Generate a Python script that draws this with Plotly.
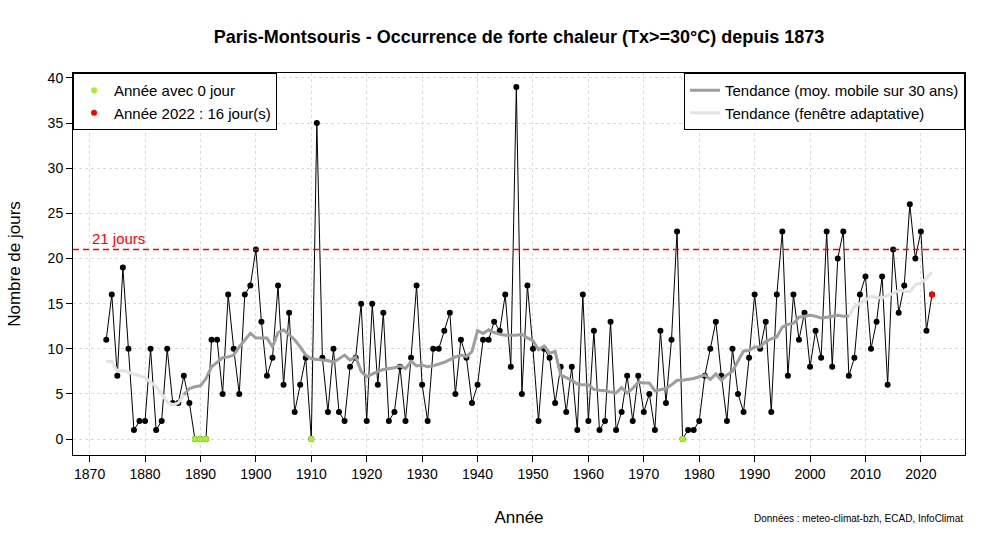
import plotly.graph_objects as go

# ---------------- data ----------------
years = list(range(1873, 2023))
days = [11, 16, 7, 19, 10, 1, 2, 2, 10, 1, 2, 10, 4, 4, 7, 4, 0, 0, 0,   # 1873-1891
        11, 11, 5, 16, 10, 5, 16, 17, 21, 13, 7, 9, 17, 6, 14, 3, 6, 9,    # 1892-1909
        0, 35, 9, 3, 10, 3, 2, 8, 9, 15, 2, 15, 6, 14, 2, 3, 8, 2, 9, 17,  # 1910-1929
        6, 2, 10, 10, 12, 14, 5, 11, 9, 4, 6, 11, 11, 13, 12, 16, 8, 39, 5, 17,  # 1930-1949
        10, 2, 10, 9, 4, 8, 3, 8, 1, 16, 2, 12, 1, 2, 13, 1, 3, 7, 2, 7,   # 1950-1969
        3, 5, 1, 12, 4, 11, 23, 0, 1, 1, 2, 7, 10, 13, 7, 2, 10, 5, 3, 9,  # 1970-1989
        16, 10, 13, 3, 16, 23, 7, 16, 11, 14, 8, 12, 9, 23, 8, 20, 23, 7, 9, 16,  # 1990-2009
        18, 10, 13, 18, 6, 21, 14, 17, 26, 20, 23, 12, 16]                 # 2010-2022

# trend: 30-year moving average
ma_years = list(range(1887, 2008))
ma_values = [4.9, 5.6, 5.8, 5.9, 6.7, 8.0, 8.5, 9.0, 9.1, 9.3, 10.2, 11.0, 11.7,   # 1887-1899
             11.2, 11.2, 11.2, 10.2, 11.8, 12.1, 11.6, 11.0, 10.2, 9.3,          # 1900-1909
             8.9, 8.8, 8.75, 8.7, 8.5, 8.9, 9.3, 8.75, 9.1, 7.5,                 # 1910-1919
             6.9, 7.2, 7.5, 7.7, 7.8, 7.9, 8.1, 7.8, 8.6, 8.1,                   # 1920-1929
             8.2, 8.0, 8.1, 8.3, 8.5, 8.8, 9.1, 9.3, 9.1, 9.7,                   # 1930-1939
             12.0, 11.7, 12.1, 11.8, 11.6, 11.5, 11.5, 11.5, 11.6, 11.2,         # 1940-1949
             10.9, 9.9, 10.3, 9.5, 9.7, 7.1, 6.8, 6.5, 6.1, 6.0,                 # 1950-1959
             6.0, 5.5, 5.4, 5.35, 5.2, 5.1, 5.7, 5.1, 5.6, 6.3,                  # 1960-1969
             6.2, 6.2, 5.35, 5.5, 5.6, 6.0, 6.5, 6.5, 6.6, 6.7,                  # 1970-1979
             6.9, 7.1, 6.6, 7.2, 6.5, 7.1, 7.5, 8.6, 9.75, 9.8,                  # 1980-1989
             10.2, 10.2, 10.8, 11.1, 11.3, 12.4, 12.7, 12.8, 13.5, 13.6,         # 1990-1999
             13.7, 13.6, 13.4, 13.5, 13.6, 13.7, 13.6, 13.6]                     # 2000-2007

# trend: adaptive window at both ends
ad_start_years = list(range(1873, 1888))
ad_start_values = [8.6, 8.6, 7.5, 7.6, 7.4, 7.2, 7.0, 6.8, 6.3, 5.8, 5.0, 4.1, 3.8, 4.0, 4.9]
ad_end_years = list(range(2007, 2023))
ad_end_values = [13.6, 14.7, 15.0, 15.4, 15.8, 15.7, 15.6, 15.9, 16.1, 16.5, 16.4, 16.3,
                 17.1, 17.3, 17.8, 18.5]

threshold = 21
x_ticks = list(range(1870, 2030, 10))
y_ticks = list(range(0, 45, 5))

# ---------------- figure ----------------
FONT = "Liberation Sans, Arial, Helvetica, sans-serif"
X_RANGE = [1867.0, 2027.96]
Y_RANGE = [-1.77, 40.55]
zero_years = [y for y, d in zip(years, days) if d == 0]
zero_vals = [0 for _ in zero_years]

fig = go.Figure()

fig.add_trace(go.Scatter(
    x=years, y=days, mode="lines+markers",
    line=dict(color="black", width=1),
    marker=dict(color="black", size=6),
    showlegend=False, hoverinfo="x+y"))

fig.add_trace(go.Scatter(
    x=ad_start_years + [None] + ad_end_years,
    y=ad_start_values + [None] + ad_end_values,
    mode="lines", line=dict(color="#E3E3E3", width=3),
    name="Tendance (fenêtre adaptative)", legend="legend2", legendrank=2))

fig.add_trace(go.Scatter(
    x=ma_years, y=ma_values, mode="lines",
    line=dict(color="#9E9E9E", width=3),
    name="Tendance (moy. mobile sur 30 ans)", legend="legend2", legendrank=1))

# threshold line (horizontal, across the whole axis range)
fig.add_trace(go.Scatter(
    x=X_RANGE, y=[threshold, threshold], mode="lines",
    line=dict(color="#FF0000", width=1.6, dash="6px,4px"),
    showlegend=False, hoverinfo="skip"))

fig.add_trace(go.Scatter(
    x=zero_years, y=zero_vals, mode="markers",
    marker=dict(color="#A6F02C", size=6),
    name="Année avec 0 jour", legend="legend", legendrank=1))

fig.add_trace(go.Scatter(
    x=[years[-1]], y=[days[-1]], mode="markers",
    marker=dict(color="#FF0000", size=6),
    name=f"Année {years[-1]} : {days[-1]} jour(s)", legend="legend", legendrank=2))

fig.add_annotation(x=1870, y=threshold, xref="x", yref="y", text=f"{threshold} jours",
                   showarrow=False, xanchor="left", yanchor="bottom", yshift=0,
                   font=dict(color="#FF0000", size=15, family=FONT))

fig.add_annotation(x=1, y=-0.165, xref="paper", yref="paper",
                   text="Données : meteo-climat-bzh, ECAD, InfoClimat",
                   showarrow=False, xanchor="right", yanchor="middle",
                   font=dict(size=10, family=FONT, color="black"))

fig.update_layout(
    width=1000, height=542,
    margin=dict(l=73, r=35, t=73, b=87),
    paper_bgcolor="white", plot_bgcolor="white",
    font=dict(family=FONT, color="black", size=14),
    title=dict(text="<b>Paris-Montsouris - Occurrence de forte chaleur (Tx>=30°C) depuis 1873</b>",
               x=0.519, xanchor="center", y=0.932, yanchor="middle",
               font=dict(size=18, family=FONT, color="black")),
    legend=dict(x=0, y=1, xanchor="left", yanchor="top", bgcolor="white",
                bordercolor="black", borderwidth=1, font=dict(size=15, family=FONT),
                tracegroupgap=0, itemwidth=30),
    legend2=dict(x=1, y=1, xanchor="right", yanchor="top", bgcolor="white",
                 bordercolor="black", borderwidth=1, font=dict(size=15, family=FONT),
                 tracegroupgap=0, itemwidth=30),
)

fig.update_xaxes(range=X_RANGE, tickvals=x_ticks, ticks="outside", ticklen=6,
                 tickcolor="black", showline=True, linecolor="black", linewidth=1, mirror=True,
                 showgrid=True, gridcolor="#DADADA", griddash="dot", gridwidth=1,
                 zeroline=False, tickfont=dict(size=14, family=FONT),
                 title=dict(text="Année", font=dict(size=17, family=FONT), standoff=30))
fig.update_yaxes(range=Y_RANGE, tickvals=y_ticks, ticks="outside", ticklen=6,
                 tickcolor="black", showline=True, linecolor="black", linewidth=1, mirror=True,
                 showgrid=True, gridcolor="#DADADA", griddash="dot", gridwidth=1,
                 zeroline=False, tickfont=dict(size=14, family=FONT),
                 title=dict(text="Nombre de jours", font=dict(size=17, family=FONT), standoff=22))

fig.write_html("out.html", config={"displayModeBar": False},
               post_script="document.body.style.margin='0px';")
